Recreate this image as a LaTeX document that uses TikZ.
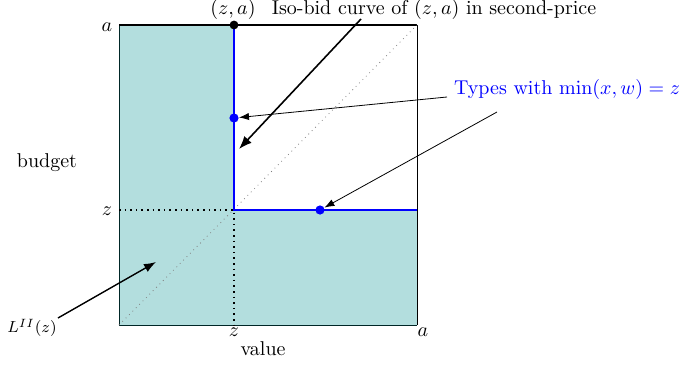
\documentclass[tikz,border=0pt]{standalone}
\usetikzlibrary{arrows.meta}
\definecolor{tealfill}{RGB}{179,222,222}
\begin{document}
\begin{tikzpicture}[x=0.5pt,y=-0.5pt,
  lbl/.style={inner sep=1pt},
  dotb/.style={circle,fill=blue,inner sep=0pt,minimum size=4.6pt},
  dotk/.style={circle,fill=black,inner sep=0pt,minimum size=4.4pt},
  thinarrow/.style={-{Latex[length=5pt,width=3.6pt]},thin},
  bigarrow/.style={-{Latex[length=6.5pt,width=5pt]},line width=0.8pt}]
\useasboundingbox (0,0) rectangle (685,364);
% coordinates
\coordinate (O) at (119,325);
\coordinate (Ax) at (417,325);
\coordinate (Ay) at (119,25);
\coordinate (AA) at (417,25);
\coordinate (Z) at (234,210);
\coordinate (Zx) at (234,325);
\coordinate (Zy) at (119,210);
\coordinate (ZA) at (234,25);
\coordinate (AZ) at (417,210);
% fill
\fill[tealfill] (O) -- (Ax) -- (AZ) -- (Z) -- (ZA) -- (Ay) -- cycle;
\draw[black!70!teal, thin] (Ay) -- (O) -- (Ax);
\draw[thin] (Ax) -- (AA);
\draw[line width=1pt] (Ay) -- (AA);
% diagonal
\draw[gray, dotted, thin] (O) -- (AA);
% dotted guides
\draw[black, dotted, line width=0.8pt] (Zy) -- (Z) -- (Zx);
% blue lines
\draw[blue, line width=0.75pt] (ZA) -- (Z) -- (AZ);
% dots
\node[dotk] (pza) at (ZA) {};
\node[dotb] (p1) at (234,118) {};
\node[dotb] (p2) at (320,210) {};
% axis labels
\node[lbl] at (107,27) {$a$};
\node[lbl] at (107,211) {$z$};
\node[lbl] at (234,332) {$z$};
\node[lbl] at (423,332) {$a$};
\node[lbl] (zalab) at (233,9) {$(z,a)$};
\node[lbl] at (47,163) {budget};
\node[lbl] at (263,349) {value};
% iso-bid
\node[lbl] (iso) at (434,9) {Iso-bid curve of $(z,a)$ in second-price};
\coordinate (isoS) at (361,19);
\coordinate (isoE) at (239,149);
\draw[bigarrow] (isoS) -- (isoE);
% types
\node[lbl, text=blue] (types) at (567,89) {Types with $\min(x,w)=z$};
\coordinate (t1) at (447,97);
\coordinate (t2) at (497,112);
\draw[thinarrow] (t1) -- (p1);
\draw[thinarrow] (t2) -- (p2);
% L^II
\node[lbl, font=\footnotesize] (L) at (32,328) {$L^{II}(z)$};
\coordinate (Ls) at (58,318);
\coordinate (Le) at (156,262);
\draw[-{Latex[length=6pt,width=4.5pt]}, line width=0.7pt] (Ls) -- (Le);
\end{tikzpicture}
\end{document}
